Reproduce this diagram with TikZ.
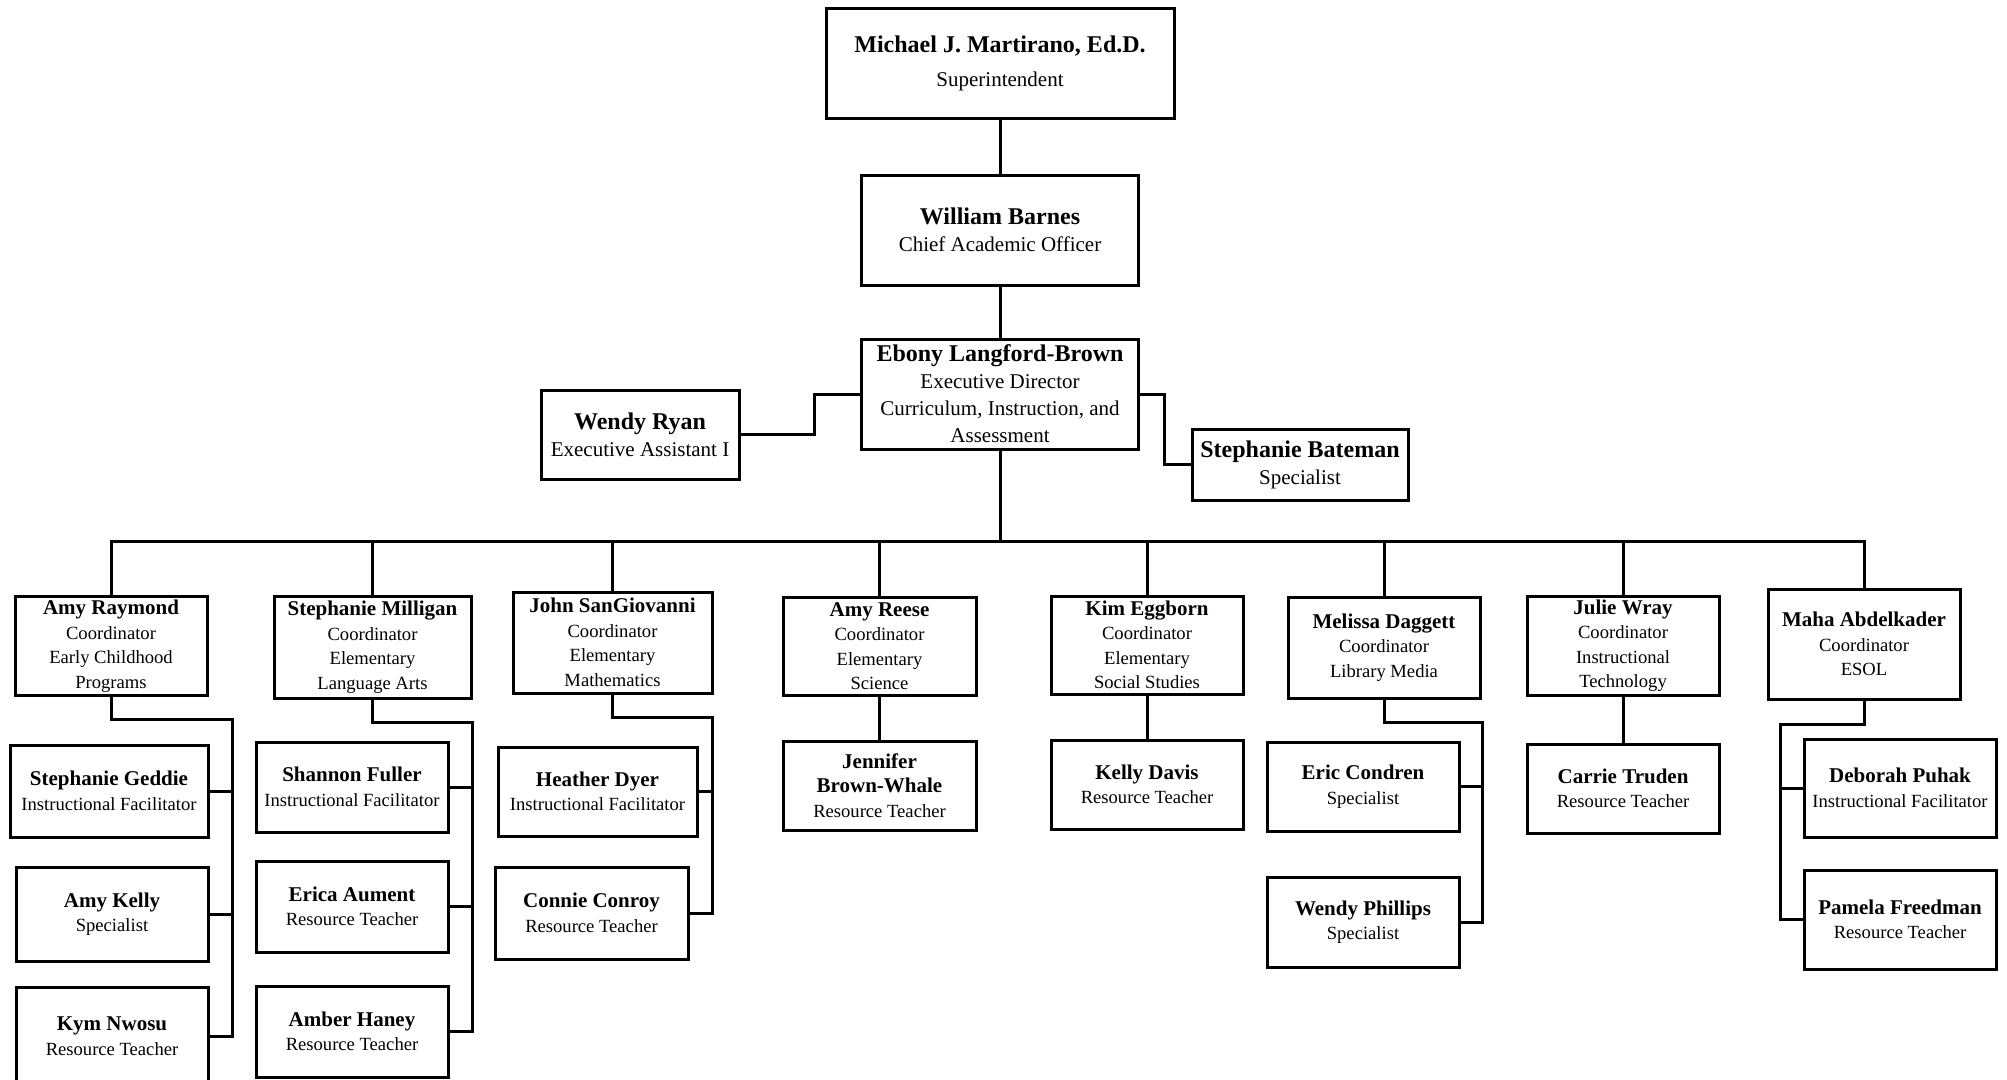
\documentclass[tikz,border=0pt]{standalone}
\usepackage{fontspec}
\setmainfont{Liberation Serif}

\newcommand{\bignm}[1]{{\fontsize{24}{26}\selectfont\bfseries #1}}
\newcommand{\nm}[1]{{\fontsize{21}{24}\selectfont\bfseries #1}}

\tikzset{
  box/.style={draw, line width=3pt, inner sep=0pt, align=center},
  head/.style={box, font=\fontsize{21}{27}\selectfont},
  unit/.style={box, font=\fontsize{18.6}{24.5}\selectfont},
  link/.style={line width=3pt},
}

\begin{document}
\begin{tikzpicture}[x=1pt, y=-1pt]
\useasboundingbox (0,0) rectangle (2007,1079);

  % Top
  \node[head, minimum width=348, minimum height=110] (mjm) at (1000,63) {\bignm{Michael J. Martirano, Ed.D.}\\[7pt]Superintendent};
  \node[head, minimum width=277, minimum height=110] (wb) at (1000,230) {\bignm{William Barnes}\\Chief Academic Officer};
  \node[head, minimum width=277, minimum height=110] (elb) at (1000,394) {\bignm{Ebony Langford-Brown}\\Executive Director\\Curriculum, Instruction, and\\Assessment};
  \node[head, minimum width=198, minimum height=89] (wr) at (640,434.5) {\bignm{Wendy Ryan}\\Executive Assistant I};
  \node[head, minimum width=216, minimum height=71] (sb) at (1300,464.5) {\bignm{Stephanie Bateman}\\Specialist};

  \draw[link] (mjm) -- (wb);
  \draw[link] (wb) -- (elb);
  \draw[link] (wr.east) -- ++(74,0) |- (elb.west);
  \draw[link] (elb.east) -- ++(24,0) |- (sb.west);

  % Coordinators
  \node[unit, minimum width=192, minimum height=99] (ar) at (111,646) {\nm{Amy Raymond}\\Coordinator\\Early Childhood\\Programs};
  \node[unit, minimum width=197, minimum height=102] (sm) at (372.5,647) {\nm{Stephanie Milligan}\\Coordinator\\Elementary\\Language Arts};
  \node[unit, minimum width=199, minimum height=101] (js) at (612.5,642.5) {\nm{John SanGiovanni}\\Coordinator\\Elementary\\Mathematics};
  \node[unit, minimum width=193, minimum height=98] (are) at (879.5,646) {\nm{Amy Reese}\\Coordinator\\Elementary\\Science};
  \node[unit, minimum width=192, minimum height=98] (ke) at (1147,645) {\nm{Kim Eggborn}\\Coordinator\\Elementary\\Social Studies};
  \node[unit, minimum width=192, minimum height=101] (md) at (1384,647.5) {\nm{Melissa Daggett}\\Coordinator\\Library Media};
  \node[unit, minimum width=192, minimum height=99] (jw) at (1623,645.5) {\nm{Julie Wray}\\Coordinator\\Instructional\\Technology};
  \node[unit, minimum width=192, minimum height=110] (ma) at (1864,644) {\nm{Maha Abdelkader}\\Coordinator\\ESOL};

  \coordinate (bus) at (1000,541);
  \draw[link] (elb.south) -- (bus);
  \draw[link] (ar.north) |- (bus) -| (ma.north);
  \foreach \n in {sm, js, are, ke, md, jw} {%
    \draw[link] (\n.north) -- (\n.north |- bus);
  }

  % Staff
  \node[unit, minimum width=198, minimum height=92] (sg) at (109,791) {\nm{Stephanie Geddie}\\Instructional Facilitator};
  \node[unit, minimum width=192, minimum height=94] (ak) at (112,914) {\nm{Amy Kelly}\\Specialist};
  \node[unit, minimum width=192, minimum height=98] (kn) at (112,1036) {\nm{Kym Nwosu}\\Resource Teacher};

  \node[unit, minimum width=192, minimum height=90] (sf) at (352,787) {\nm{Shannon Fuller}\\Instructional Facilitator};
  \node[unit, minimum width=192, minimum height=91] (ea) at (352,906.5) {\nm{Erica Aument}\\Resource Teacher};
  \node[unit, minimum width=192, minimum height=91] (ah) at (352,1031.5) {\nm{Amber Haney}\\Resource Teacher};

  \node[unit, minimum width=199, minimum height=89] (hd) at (597.5,791.5) {\nm{Heather Dyer}\\Instructional Facilitator};
  \node[unit, minimum width=193, minimum height=92] (cc) at (591.5,913) {\nm{Connie Conroy}\\Resource Teacher};

  \node[unit, minimum width=193, minimum height=89] (jbw) at (879.5,785.5) {\nm{Jennifer}\\\nm{Brown-Whale}\\Resource Teacher};
  \node[unit, minimum width=192, minimum height=89] (kd) at (1147,784.5) {\nm{Kelly Davis}\\Resource Teacher};

  \node[unit, minimum width=192, minimum height=89] (ec) at (1363,786.5) {\nm{Eric Condren}\\Specialist};
  \node[unit, minimum width=192, minimum height=90] (wp) at (1363,922) {\nm{Wendy Phillips}\\Specialist};

  \node[unit, minimum width=192, minimum height=89] (ct) at (1623,788.5) {\nm{Carrie Truden}\\Resource Teacher};

  \node[unit, minimum width=192, minimum height=98] (dp) at (1900,788) {\nm{Deborah Puhak}\\Instructional Facilitator};
  \node[unit, minimum width=192, minimum height=99] (pf) at (1900,919.5) {\nm{Pamela Freedman}\\Resource Teacher};

  \coordinate (arbus) at (232,719);
  \coordinate (smbus) at (472,722);
  \coordinate (jsbus) at (712,717);
  \coordinate (mdbus) at (1482,722);
  \coordinate (mabus) at (1780,724);

  \draw[link] (ar.south) |- (arbus) |- (kn.east);
  \draw[link] (sm.south) |- (smbus) |- (ah.east);
  \draw[link] (js.south) |- (jsbus) |- (cc.east);
  \draw[link] (md.south) |- (mdbus) |- (wp.east);
  \draw[link] (ma.south) |- (mabus) |- (pf.west);
  \foreach \n/\c in {sg/arbus, ak/arbus, sf/smbus, ea/smbus, hd/jsbus, ec/mdbus} {%
    \draw[link] (\n.east) -- (\n.east -| \c);
  }
  \draw[link] (dp.west) -- (dp.west -| mabus);

  \foreach \a/\b in {are/jbw, ke/kd, jw/ct} {%
    \draw[link] (\a) -- (\b);
  }
\end{tikzpicture}
\end{document}
